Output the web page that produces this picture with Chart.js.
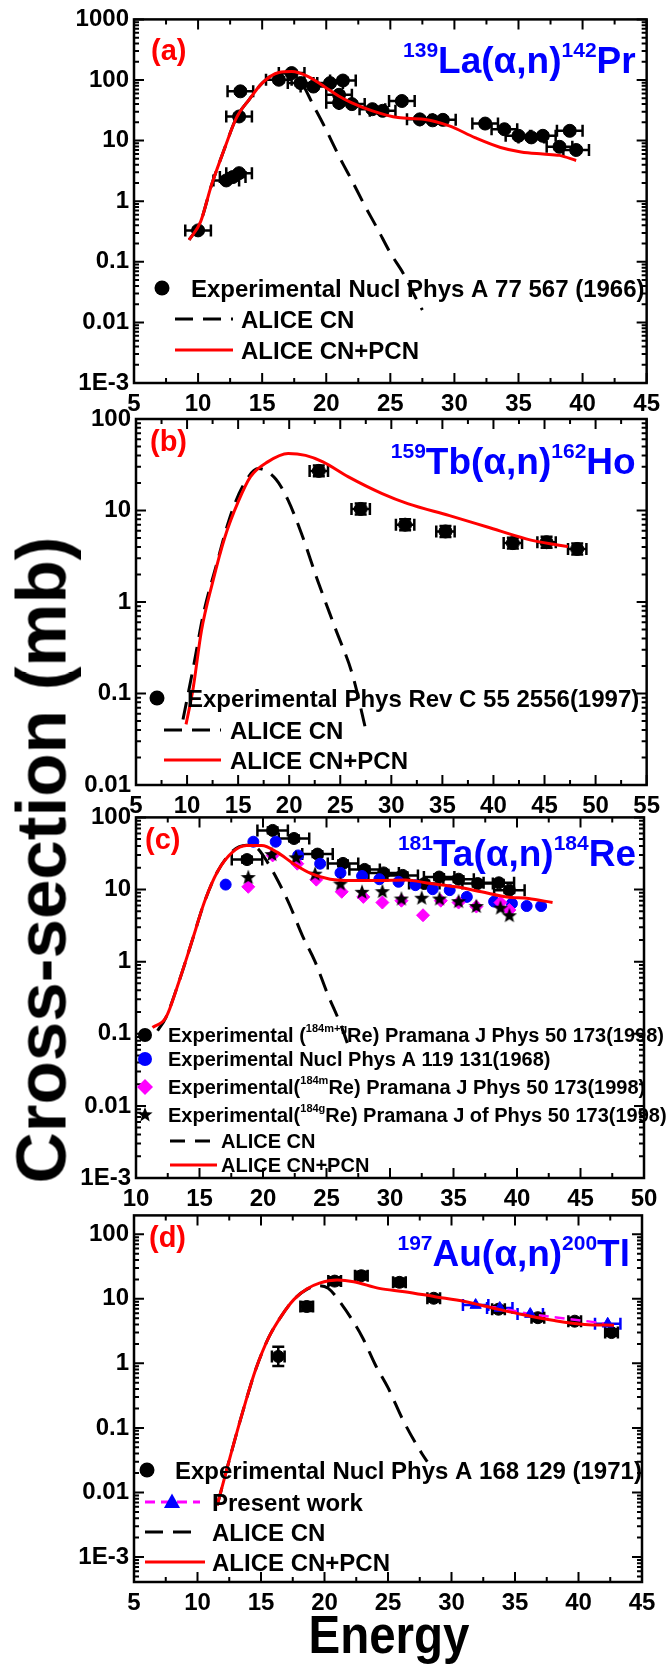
<!DOCTYPE html>
<html>
<head>
<meta charset="utf-8">
<script src="https://cdn.jsdelivr.net/npm/chart.js@4/dist/chart.umd.min.js"></script>
<style>
  html, body { margin: 0; padding: 0; background: #fff; }
  #page { position: relative; width: 667px; height: 1666px; overflow: hidden; }
  #page canvas { position: absolute; left: 0; }
  .title { position: absolute; font-family: 'Liberation Sans', Arial, sans-serif; font-weight: bold; line-height: 1; white-space: nowrap; color: #000; }
  #ytitle { left: 41px; top: 860px; font-size: 71px; transform: translate(-50%, -50%) rotate(-90deg); }
  #xtitle { left: 389px; top: 1607px; font-size: 54px; transform: translateX(-50%) scaleX(0.88); }
</style>
</head>
<body>
<div id="page">
  <canvas id="pa" width="667" height="420" style="top:0px"></canvas>
  <canvas id="pb" width="667" height="422" style="top:398px"></canvas>
  <canvas id="pc" width="667" height="412" style="top:798px"></canvas>
  <canvas id="pd" width="667" height="430" style="top:1196px"></canvas>
  <div class="title" id="ytitle">Cross-section (mb)</div>
  <div class="title" id="xtitle">Energy</div>
</div>
<script>
const TXT = "'Liberation Sans', Arial, sans-serif";

// ---- (a) 139La(a,n)142Pr ----
const aExpE = [10.0, 12.2, 12.7, 13.2, 13.2, 13.3, 16.3, 17.3, 18.0, 19.0, 20.3, 21.0, 21.0, 21.3, 22.0, 23.6, 24.4, 25.9, 27.3, 28.3, 29.1, 32.4, 33.9, 35.0, 36.0, 36.9, 38.2, 39.0, 39.5];
const aExpS = [0.33, 2.2, 2.5, 2.9, 25, 65, 101, 130, 89, 78, 89, 57, 42, 98, 40, 33, 31, 45, 22.4, 21.6, 22, 19.1, 15.4, 12.0, 11.3, 12.0, 7.9, 14.5, 7.0];
const aCnE = [9.3, 10.2, 11.0, 12.0, 13.0, 14.0, 15.0, 16.0, 17.0, 18.0, 19.0, 20.0, 21.0, 22.0, 23.0, 24.0, 25.0, 26.0, 27.0, 27.5];
const aCnS = [0.23, 0.46, 1.72, 6.8, 24, 48, 89, 125, 130, 95, 38, 15, 5.5, 2.2, 0.85, 0.35, 0.14, 0.065, 0.025, 0.016];
const aPcnE = [9.3, 10.2, 11.0, 12.0, 13.0, 14.0, 15.0, 16.3, 17.3, 18.6, 20.0, 21.0, 22.0, 23.6, 25.6, 27.6, 29.6, 31.6, 33.6, 35.2, 36.9, 38.2, 39.5];
const aPcnS = [0.23, 0.46, 1.72, 6.8, 24, 48, 89, 133, 138, 114, 74, 54, 42, 31, 24, 22.5, 17.5, 11.2, 7.7, 6.5, 6.0, 5.7, 4.7];

// ---- (b) 159Tb(a,n)162Ho ----
const bExpE = [22.9, 27.0, 31.35, 35.3, 41.9, 45.2, 48.2];
const bExpS = [27.1, 10.4, 7.0, 5.9, 4.4, 4.5, 3.8];
const bCnE = [9.6, 10.6, 11.6, 12.9, 14.1, 15.4, 17.0, 18.7, 19.9, 21.2, 22.8, 24.5, 26.2, 27.6];
const bCnS = [0.052, 0.19, 0.74, 2.6, 7.8, 18, 28.7, 22, 12.9, 5.6, 1.7, 0.52, 0.16, 0.036];
const bPcnE = [9.9, 10.6, 11.4, 12.5, 13.7, 15.0, 16.2, 17.9, 19.9, 21.6, 23.3, 25.8, 29.1, 31.6, 35.7, 39.4, 43.2, 45.7, 47.3];
const bPcnS = [0.046, 0.115, 0.48, 1.64, 5.1, 12.4, 23.3, 34, 42, 40, 34, 23.3, 15.3, 11.9, 8.8, 6.6, 4.9, 4.3, 4.04];

// ---- (c) 181Ta(a,n)184Re ----
const cMgE = [18.74, 20.76, 22.44, 24.29, 26.3, 28.0, 29.5, 31.0, 32.7, 33.87, 35.4, 36.9, 38.57, 39.4];
const cMgS = [26, 66, 51, 31, 23, 19, 17, 15.7, 12.1, 14.9, 13.9, 12.1, 12.4, 9.8];
const cNpE = [17.06, 19.24, 21.0, 22.77, 24.5, 26.1, 27.8, 29.16, 30.67, 32.0, 33.36, 34.7, 36.05, 38.2, 39.6, 40.76, 41.9];
const cNpS = [11.7, 46, 46, 29.7, 22.8, 17, 15.4, 13.9, 12.8, 11.5, 10.1, 9.8, 7.9, 6.8, 6.4, 5.9, 5.9];
const cME = [18.84, 20.76, 22.7, 24.2, 26.2, 27.9, 29.4, 30.9, 32.6, 34.0, 35.4, 36.8, 38.7, 39.4];
const cMS = [10.9, 29.7, 22.8, 13.7, 9.3, 7.9, 6.6, 7.0, 4.4, 7.0, 6.6, 5.8, 6.6, 5.2];
const cGE = [18.84, 20.7, 22.6, 24.1, 26.1, 27.8, 29.4, 30.9, 32.5, 33.9, 35.4, 36.8, 38.7, 39.4];
const cGS = [14.9, 31, 28, 16.6, 12.1, 9.3, 9.5, 7.5, 7.7, 7.5, 6.9, 5.9, 5.6, 4.4];
const cCnE = [11.7, 12.35, 13.4, 14.4, 15.4, 16.4, 17.6, 18.7, 19.5, 20.1, 21.1, 22.1, 23.1, 24.1, 25.1, 26.1, 26.8];
const cCnS = [0.11, 0.168, 0.54, 1.9, 6.8, 17.5, 34, 41, 38, 28, 14, 6.1, 2.3, 1.0, 0.35, 0.136, 0.062];
const cPcnE = [11.3, 12.35, 13.4, 14.4, 15.4, 16.4, 17.6, 18.7, 19.9, 21.1, 22.4, 23.8, 25.3, 27.1, 29.2, 31.2, 33.2, 35.2, 37.2, 39.2, 40.9, 42.8];
const cPcnS = [0.122, 0.168, 0.54, 1.9, 6.8, 17.5, 33, 40.7, 40.7, 33, 22.8, 16.6, 13.9, 13.3, 13.3, 13.5, 12.1, 10.9, 9.3, 7.9, 7.5, 6.6];

// ---- (d) 197Au(a,n)200Tl ----
const dExpE = [16.36, 18.6, 20.8, 22.9, 25.9, 28.6, 33.7, 36.8, 39.7, 42.6];
const dExpS = [1.28, 7.6, 18.8, 22.8, 18, 10.2, 6.9, 5.1, 4.5, 3.0];
const dExpErr = [0.15, 0.07, 0.06, 0.06, 0.06, 0.05, 0.05, 0.05, 0.05, 0.05];
const dPwE = [31.9, 33.8, 36.2, 42.3];
const dPwS = [8.0, 7.2, 5.8, 4.1];
const dCnE = [11.55, 12.56, 13.57, 14.58, 15.6, 16.6, 17.6, 18.6, 19.6, 20.3, 21.3, 23.0, 24.0, 25.0, 26.2, 27.7, 28.1];
const dCnS = [0.0063, 0.035, 0.18, 0.8, 2.5, 5.4, 9.8, 14, 16, 14.5, 8.5, 2.5, 0.95, 0.42, 0.13, 0.039, 0.03];
const dPcnE = [11.55, 12.56, 13.57, 14.58, 15.6, 16.6, 17.6, 18.6, 19.6, 21.0, 22.3, 24.3, 26.3, 28.7, 31.05, 33.4, 35.75, 38.1, 40.5, 42.8];
const dPcnS = [0.0063, 0.035, 0.18, 0.8, 2.5, 5.4, 9.8, 14.2, 17.5, 19.5, 18.4, 14.5, 12.9, 10.8, 9.1, 7.1, 5.6, 4.6, 4.0, 3.9];

const RED = '#ff0000', BLUE = '#0000ff', MAG = '#ff00ff', BLK = '#000000';

function pts(xs, ys) { return xs.map((x, i) => ({ x: x, y: ys[i] })); }

function curve(label, xs, ys, color, dash) {
  return { label, data: pts(xs, ys), showLine: true, borderColor: color, borderWidth: 3,
    borderDash: dash || [], pointRadius: 0, cubicInterpolationMode: 'monotone', fill: false };
}

function markers(label, xs, ys, style, color, r, ex, ey) {
  return { label, data: pts(xs, ys), showLine: false, pointStyle: style, pointRadius: r,
    pointBackgroundColor: color, pointBorderColor: color, pointBorderWidth: 1,
    errX: ex, errY: ey, errColor: color };
}

// filled five-point star, used as a point image
function starPath(ctx, cx, cy, r) {
  ctx.beginPath();
  for (let i = 0; i < 10; i++) {
    const rad = i % 2 === 0 ? r : r * 0.42;
    const ang = -Math.PI / 2 + i * Math.PI / 5;
    const px = cx + rad * Math.cos(ang), py = cy + rad * Math.sin(ang);
    if (i === 0) ctx.moveTo(px, py); else ctx.lineTo(px, py);
  }
  ctx.closePath();
}
const starImg = document.createElement('canvas');
starImg.width = 16; starImg.height = 16;
(function () { const c = starImg.getContext('2d'); c.fillStyle = '#000'; starPath(c, 8, 8.6, 8); c.fill(); })();

function drawMarker(ctx, style, x, y, r, color) {
  ctx.fillStyle = color;
  ctx.beginPath();
  if (style === 'circle') {
    ctx.arc(x, y, r, 0, Math.PI * 2);
  } else if (style === 'diamond') {
    ctx.moveTo(x, y - r); ctx.lineTo(x + r, y); ctx.lineTo(x, y + r); ctx.lineTo(x - r, y); ctx.closePath();
  } else if (style === 'triangle') {
    ctx.moveTo(x, y - r); ctx.lineTo(x + r * 0.95, y + r * 0.7); ctx.lineTo(x - r * 0.95, y + r * 0.7); ctx.closePath();
  } else if (style === 'star') {
    starPath(ctx, x, y, r);
  }
  ctx.fill();
}

// text with superscripts: segs = [[text, isSup], ...]
function drawRich(ctx, segs, x, y, size, supSize, rise, color, align) {
  ctx.fillStyle = color;
  ctx.textAlign = 'left';
  ctx.textBaseline = 'alphabetic';
  const font = s => 'bold ' + s + 'px ' + TXT;
  let w = 0;
  segs.forEach(s => { ctx.font = font(s[1] ? supSize : size); w += ctx.measureText(s[0]).width; });
  let cx = align === 'right' ? x - w : x;
  segs.forEach(s => {
    ctx.font = font(s[1] ? supSize : size);
    ctx.fillText(s[0], cx, s[1] ? y - rise : y);
    cx += ctx.measureText(s[0]).width;
  });
}

const errorBars = {
  id: 'errorBars',
  beforeDatasetsDraw(chart) {
    const { ctx, scales: { x, y } } = chart;
    ctx.save();
    ctx.lineWidth = 2.5;
    chart.data.datasets.forEach(ds => {
      if (!ds.errX && !ds.errY) return;
      ctx.strokeStyle = ds.errColor;
      ctx.beginPath();
      ds.data.forEach((p, j) => {
        const px = x.getPixelForValue(p.x), py = y.getPixelForValue(p.y);
        if (ds.errX) {
          const x0 = x.getPixelForValue(p.x - ds.errX), x1 = x.getPixelForValue(p.x + ds.errX);
          ctx.moveTo(x0, py); ctx.lineTo(x1, py);
          ctx.moveTo(x0, py - 6); ctx.lineTo(x0, py + 6);
          ctx.moveTo(x1, py - 6); ctx.lineTo(x1, py + 6);
        }
        if (ds.errY) {
          const e = Array.isArray(ds.errY) ? ds.errY[j] : ds.errY;
          const y0 = y.getPixelForValue(p.y * Math.pow(10, -e)), y1 = y.getPixelForValue(p.y * Math.pow(10, e));
          ctx.moveTo(px, y0); ctx.lineTo(px, y1);
          ctx.moveTo(px - 6, y0); ctx.lineTo(px + 6, y0);
          ctx.moveTo(px - 6, y1); ctx.lineTo(px + 6, y1);
        }
      });
      ctx.stroke();
    });
    ctx.restore();
  }
};

// box and inward ticks on all four sides
const frame = {
  id: 'frame',
  afterDatasetsDraw(chart) {
    const { ctx, chartArea: a, scales: { x, y } } = chart;
    ctx.save();
    ctx.strokeStyle = '#000';
    ctx.lineWidth = 2;
    ctx.beginPath();
    for (let v = x.min; v <= x.max + 1e-6; v += 2.5) {
      const px = x.getPixelForValue(v);
      const len = Math.round(v / 2.5) % 2 === 0 ? 10 : 5;
      ctx.moveTo(px, a.bottom); ctx.lineTo(px, a.bottom - len);
      ctx.moveTo(px, a.top); ctx.lineTo(px, a.top + len);
    }
    const lo = Math.floor(Math.log10(y.min)), hi = Math.ceil(Math.log10(y.max));
    for (let d = lo; d <= hi; d++) {
      for (let m = 1; m <= 9; m++) {
        const v = m * Math.pow(10, d);
        if (v < y.min * 0.999 || v > y.max * 1.001) continue;
        const py = y.getPixelForValue(v);
        const len = m === 1 ? 10 : 5;
        ctx.moveTo(a.left, py); ctx.lineTo(a.left + len, py);
        ctx.moveTo(a.right, py); ctx.lineTo(a.right - len, py);
      }
    }
    ctx.stroke();
    ctx.lineWidth = 2.5;
    ctx.strokeRect(a.left, a.top, a.right - a.left, a.bottom - a.top);
    ctx.restore();
  }
};

function panelText(spec) {
  return {
    id: 'panelText',
    afterDraw(chart) {
      const ctx = chart.ctx, a = chart.chartArea;
      ctx.save();
      drawRich(ctx, [[spec.tag, false]], a.left + spec.tagX, a.top + spec.tagY, 29, 29, 0, RED, 'left');
      drawRich(ctx, spec.reaction, a.right - spec.reactRight, a.top + spec.reactY, 37, 21, 16, BLUE, 'right');
      const L = spec.legend;
      L.rows.forEach(row => {
        const ry = a.bottom + row.y;
        if (row.line) {
          ctx.strokeStyle = row.line.color;
          ctx.lineWidth = 3;
          ctx.setLineDash(row.line.dash || []);
          ctx.beginPath();
          ctx.moveTo(a.left + row.line.x0, ry);
          ctx.lineTo(a.left + row.line.x1, ry);
          ctx.stroke();
          ctx.setLineDash([]);
        }
        if (row.marker) {
          drawMarker(ctx, row.marker.style, a.left + row.marker.x, ry, row.marker.r, row.marker.color);
        }
        drawRich(ctx, row.text, a.left + row.tx, ry + L.size * 0.36, L.size, L.size * 0.55, L.size * 0.5, '#000', 'left');
      });
      ctx.restore();
    }
  };
}

function fmtLog(v) {
  if (v >= 1) return String(Math.round(v));
  if (Math.abs(v - 0.001) < 1e-9) return '1E-3';
  return String(v);
}

function makePanel(cfg) {
  const cv = document.getElementById(cfg.id);
  const canvasTop = parseFloat(cv.style.top);
  const A = cfg.area;
  const tickFont = { family: TXT, size: 24, weight: 'bold' };
  return new Chart(cv, {
    type: 'scatter',
    data: { datasets: cfg.datasets },
    options: {
      responsive: false,
      animation: false,
      events: [],
      layout: { padding: { top: A.top - canvasTop, right: 667 - A.right, left: 0, bottom: 0 } },
      plugins: { legend: { display: false }, tooltip: { enabled: false } },
      scales: {
        x: {
          type: 'linear', min: cfg.xMin, max: cfg.xMax,
          grid: { display: false, drawTicks: false },
          border: { display: false },
          ticks: { stepSize: 5, autoSkip: false, maxRotation: 0, padding: 7, color: '#000', font: tickFont },
          afterFit(s) { s.height = canvasTop + cv.height - A.bottom; }
        },
        y: {
          type: 'logarithmic', min: cfg.yMin, max: cfg.yMax,
          grid: { display: false, drawTicks: false },
          border: { display: false },
          ticks: { autoSkip: false, padding: 5, color: '#000', font: tickFont, callback: v => fmtLog(v) },
          afterBuildTicks(s) { s.ticks = cfg.decades.map(v => ({ value: v })); },
          afterFit(s) { s.width = A.left; }
        }
      }
    },
    plugins: [errorBars, frame, panelText(cfg.text)]
  });
}

const DASH = [18, 10];

makePanel({
  id: 'pa', area: { left: 134, top: 17, right: 649, bottom: 383 },
  xMin: 5, xMax: 45, yMin: 1e-3, yMax: 1e3, decades: [1e-3, 1e-2, 0.1, 1, 10, 100, 1000],
  datasets: [
    curve('ALICE CN+PCN', aPcnE, aPcnS, RED),
    curve('ALICE CN', aCnE, aCnS, BLK, DASH),
    markers('Experimental Nucl Phys A 77 567 (1966)', aExpE, aExpS, 'circle', BLK, 6.5, 1.0, 0.04)
  ],
  text: {
    tag: '(a)', tagX: 17, tagY: 41,
    reaction: [['139', true], ['La(\u03b1,n)', false], ['142', true], ['Pr', false]], reactRight: 11, reactY: 54,
    legend: { size: 24, rows: [
      { y: -95, marker: { style: 'circle', x: 28, r: 7.5, color: BLK }, tx: 57, text: [['Experimental Nucl Phys A 77 567 (1966)', false]] },
      { y: -64, line: { x0: 41, x1: 99, color: BLK, dash: DASH }, tx: 107, text: [['ALICE CN', false]] },
      { y: -33, line: { x0: 41, x1: 99, color: RED }, tx: 107, text: [['ALICE CN+PCN', false]] }
    ] }
  }
});

makePanel({
  id: 'pb', area: { left: 136, top: 419, right: 651, bottom: 785 },
  xMin: 5, xMax: 55, yMin: 1e-2, yMax: 100, decades: [1e-2, 0.1, 1, 10, 100],
  datasets: [
    curve('ALICE CN+PCN', bPcnE, bPcnS, RED),
    curve('ALICE CN', bCnE, bCnS, BLK, DASH),
    markers('Experimental Phys Rev C 55 2556(1997)', bExpE, bExpS, 'circle', BLK, 6.5, 0.9, 0.06)
  ],
  text: {
    tag: '(b)', tagX: 14, tagY: 32,
    reaction: [['159', true], ['Tb(\u03b1,n)', false], ['162', true], ['Ho', false]], reactRight: 11, reactY: 55,
    legend: { size: 24, rows: [
      { y: -87, marker: { style: 'circle', x: 21, r: 7.5, color: BLK }, tx: 51, text: [['Experimental Phys Rev C 55 2556(1997)', false]] },
      { y: -55, line: { x0: 28, x1: 85, color: BLK, dash: DASH }, tx: 94, text: [['ALICE CN', false]] },
      { y: -25, line: { x0: 28, x1: 85, color: RED }, tx: 94, text: [['ALICE CN+PCN', false]] }
    ] }
  }
});

makePanel({
  id: 'pc', area: { left: 136, top: 814, right: 644, bottom: 1178 },
  xMin: 10, xMax: 50, yMin: 1e-3, yMax: 100, decades: [1e-3, 1e-2, 0.1, 1, 10, 100],
  datasets: [
    curve('ALICE CN+PCN', cPcnE, cPcnS, RED),
    curve('ALICE CN', cCnE, cCnS, BLK, DASH),
    markers('Experimental (184gRe)', cGE, cGS, starImg, BLK, 7),
    markers('Experimental (184mRe)', cME, cMS, 'rectRot', MAG, 6.5),
    markers('Experimental Nucl Phys A 119 131(1968)', cNpE, cNpS, 'circle', BLUE, 5.5),
    markers('Experimental (184m+gRe)', cMgE, cMgS, 'circle', BLK, 6, 1.2, 0.04)
  ],
  text: {
    tag: '(c)', tagX: 9, tagY: 32,
    reaction: [['181', true], ['Ta(\u03b1,n)', false], ['184', true], ['Re', false]], reactRight: 8, reactY: 49,
    legend: { size: 20, rows: [
      { y: -143, marker: { style: 'circle', x: 9, r: 7, color: BLK }, tx: 32, text: [['Experimental (', false], ['184m+g', true], ['Re) Pramana J Phys 50 173(1998)', false]] },
      { y: -119, marker: { style: 'circle', x: 9, r: 7, color: BLUE }, tx: 32, text: [['Experimental Nucl Phys A 119 131(1968)', false]] },
      { y: -91, marker: { style: 'diamond', x: 9, r: 8, color: MAG }, tx: 32, text: [['Experimental(', false], ['184m', true], ['Re) Pramana J Phys 50 173(1998)', false]] },
      { y: -63, marker: { style: 'star', x: 9, r: 8, color: BLK }, tx: 32, text: [['Experimental(', false], ['184g', true], ['Re) Pramana J of Phys 50 173(1998)', false]] },
      { y: -37, line: { x0: 34, x1: 81, color: BLK, dash: [15, 10] }, tx: 85, text: [['ALICE CN', false]] },
      { y: -13, line: { x0: 34, x1: 81, color: RED }, tx: 85, text: [['ALICE CN+PCN', false]] }
    ] }
  }
});

makePanel({
  id: 'pd', area: { left: 134, top: 1213, right: 642, bottom: 1582 },
  xMin: 5, xMax: 45, yMin: 4.1e-4, yMax: 196, decades: [1e-3, 1e-2, 0.1, 1, 10, 100],
  datasets: [
    curve('ALICE CN+PCN', dPcnE, dPcnS, RED),
    curve('ALICE CN', dCnE, dCnS, BLK, DASH),
    Object.assign(markers('Present work', dPwE, dPwS, 'triangle', BLUE, 6.5, 1.0), {
      showLine: true, borderColor: MAG, borderWidth: 2.5, borderDash: [10, 6] }),
    markers('Experimental Nucl Phys A 168 129 (1971)', dExpE, dExpS, 'circle', BLK, 6, 0.5, dExpErr)
  ],
  text: {
    tag: '(d)', tagX: 15, tagY: 32,
    reaction: [['197', true], ['Au(\u03b1,n)', false], ['200', true], ['Tl', false]], reactRight: 12, reactY: 51,
    legend: { size: 24, rows: [
      { y: -112, marker: { style: 'circle', x: 13, r: 7.5, color: BLK }, tx: 41, text: [['Experimental Nucl Phys A 168 129 (1971)', false]] },
      { y: -80, line: { x0: 11, x1: 66, color: MAG, dash: [10, 6] }, marker: { style: 'triangle', x: 38, r: 8.5, color: BLUE }, tx: 78, text: [['Present work', false]] },
      { y: -50, line: { x0: 11, x1: 57, color: BLK, dash: DASH }, tx: 78, text: [['ALICE CN', false]] },
      { y: -20, line: { x0: 11, x1: 71, color: RED }, tx: 78, text: [['ALICE CN+PCN', false]] }
    ] }
  }
});
</script>
</body>
</html>
